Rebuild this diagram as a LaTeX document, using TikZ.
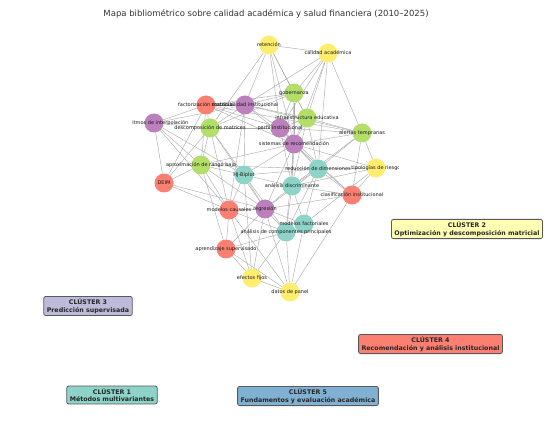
\documentclass[tikz,border=0pt]{standalone}
\usepackage{fontspec}
\setmainfont{DejaVu Sans}
\usetikzlibrary{backgrounds}
\definecolor{nteal}{HTML}{8DD3C7}
\definecolor{nyel}{HTML}{FFED6F}
\definecolor{nred}{HTML}{FB8072}
\definecolor{npur}{HTML}{BC80BD}
\definecolor{ngrn}{HTML}{B3DE69}
\definecolor{cone}{HTML}{8DD3C7}
\definecolor{ctwo}{HTML}{FFFFB3}
\definecolor{cthree}{HTML}{BEBADA}
\definecolor{cfour}{HTML}{FB8072}
\definecolor{cfive}{HTML}{80B1D3}
\definecolor{edgegray}{HTML}{ABABAB}
\tikzset{
  nd/.style={circle, draw=none, fill=#1, minimum size=19pt, inner sep=0pt},
  lbl/.style={font=\fontsize{5}{6}\selectfont, text=black!90, inner sep=0pt},
  edge/.style={draw=edgegray, line width=0.42pt},
  clbox/.style={draw=black!65, line width=0.8pt, rounded corners=2pt, fill=#1,
    align=center, font=\fontsize{6.3}{7.6}\selectfont\bfseries, text=black!85,
    inner xsep=3pt, inner ysep=2.2pt},
  ttl/.style={font=\fontsize{8.5}{10}\selectfont, text=black!80, inner sep=0pt}
}
\begin{document}
\begin{tikzpicture}[x=1pt,y=-1pt]
\useasboundingbox (0,0) rectangle (559,430);
\node[ttl] (T) at (266,14) {Mapa bibliométrico sobre calidad académica y salud financiera (2010–2025)};
\begin{scope}
\clip (132,0) rectangle (398,430);
% nodes
\node[nd=nyel] (R) at (269,45) {};
\node[nd=nyel] (CA) at (328,53) {};
\node[nd=ngrn] (G) at (294,93) {};
\node[nd=nred] (FM) at (206,105) {};
\node[nd=npur] (SI) at (245,105) {};
\node[nd=npur] (AI) at (154,123) {};
\node[nd=ngrn] (DM) at (210,128) {};
\node[nd=ngrn] (IE) at (307,118) {};
\node[nd=npur] (PI) at (280,128) {};
\node[nd=ngrn] (AT) at (362,133) {};
\node[nd=npur] (SR) at (294,144) {};
\node[nd=ngrn] (AR) at (201,165) {};
\node[nd=nteal] (HJ) at (244,175) {};
\node[nd=nteal] (RD) at (318,169) {};
\node[nd=nyel] (TR) at (376,168) {};
\node[nd=nteal] (AD) at (292,186) {};
\node[nd=nred] (DE) at (164,183) {};
\node[nd=nred] (CI) at (352,195) {};
\node[nd=nred] (MC) at (229,210) {};
\node[nd=npur] (RG) at (265,209) {};
\node[nd=nteal] (MF) at (304,224) {};
\node[nd=nteal] (ACP) at (286,232) {};
\node[nd=nred] (AS) at (226,249) {};
\node[nd=nyel] (EF) at (252,278) {};
\node[nd=nyel] (DP) at (290,292) {};
% edges
\begin{scope}[on background layer]
\fill[white] (0,0) rectangle (559,430);
\foreach \a/\b in {R/CA,R/SI,R/DM,R/G,R/IE,R/SR,R/PI,
  CA/SI,CA/G,CA/IE,CA/PI,CA/SR,CA/AT,CA/RD,
  G/SI,G/DM,G/IE,G/PI,G/SR,G/AD,G/FM,
  FM/AI,FM/DM,FM/SI,FM/PI,FM/AT,FM/AR,FM/DE,FM/SR,
  SI/AI,SI/DM,SI/IE,SI/PI,SI/AT,SI/HJ,SI/SR,SI/MC,
  AI/DM,AI/DE,AI/MC,AI/HJ,AI/AR,
  DM/AR,DM/HJ,DM/MC,DM/RG,DM/DE,DM/PI,
  IE/PI,IE/SR,IE/AT,IE/RD,IE/AD,
  PI/SR,PI/AT,PI/RD,PI/AD,PI/CI,
  AT/TR,AT/CI,AT/RD,AT/SR,AT/AD,
  SR/RD,SR/HJ,SR/AD,SR/RG,SR/AR,SR/TR,SR/CI,SR/ACP,
  AR/HJ,AR/MC,AR/RG,AR/DE,AR/RD,AR/AS,
  HJ/RD,HJ/MC,HJ/RG,HJ/AD,HJ/ACP,HJ/EF,
  RD/CI,RD/AD,RD/TR,RD/MF,RD/ACP,RD/RG,
  TR/CI,TR/AD,TR/MF,
  CI/DP,CI/AD,CI/RG,
  DE/MC,DE/RG,
  MC/RG,MC/AS,MC/ACP,MC/EF,MC/DP,
  RG/MF,RG/ACP,RG/AS,RG/EF,RG/DP,
  AS/EF,AS/DP,AS/ACP,
  EF/DP,EF/ACP,
  DP/ACP,DP/MF,
  AD/MF,AD/ACP,AD/RG}
  \draw[edge] (\a) -- (\b);
\end{scope}
% labels
\node[lbl] (Rt) at (R) {retención};
\node[lbl] (CAt) at (CA) {calidad académica};
\node[lbl] (Gt) at (G) {gobernanza};
\node[lbl] (FMt) at (FM) {factorización matricial};
\node[lbl] (SIt) at (SI) {sostenibilidad institucional};
\node[lbl] (AIt) at (AI) {algoritmos de interpolación};
\node[lbl] (DMt) at (DM) {descomposición de matrices};
\node[lbl] (IEt) at (IE) {infraestructura educativa};
\node[lbl] (PIt) at (PI) {perfil institucional};
\node[lbl] (ATt) at (AT) {alertas tempranas};
\node[lbl] (SRt) at (SR) {sistemas de recomendación};
\node[lbl] (ARt) at (AR) {aproximación de rango bajo};
\node[lbl] (HJt) at (HJ) {HJ-Biplot};
\node[lbl] (RDt) at (RD) {reducción de dimensiones};
\node[lbl] (TRt) at (TR) {tipologías de riesgo};
\node[lbl] (ADt) at (AD) {análisis discriminante};
\node[lbl] (DEt) at (DE) {DEIM};
\node[lbl] (CIt) at (CI) {clasificación institucional};
\node[lbl] (MCt) at (MC) {modelos causales};
\node[lbl] (RGt) at (RG) {regresión};
\node[lbl] (MFt) at (MF) {modelos factoriales};
\node[lbl] (ACPt) at (ACP) {análisis de componentes principales};
\node[lbl] (ASt) at (AS) {aprendizaje supervisado};
\node[lbl] (EFt) at (EF) {efectos fijos};
\node[lbl] (DPt) at (DP) {datos de panel};
\end{scope}
% cluster boxes
\node[clbox=ctwo] (C2) at (467,229) {CLÚSTER 2\\Optimización y descomposición matricial};
\node[clbox=cthree] (C3) at (88,306) {CLÚSTER 3\\Predicción supervisada};
\node[clbox=cfour] (C4) at (430.5,344) {CLÚSTER 4\\Recomendación y análisis institucional};
\node[clbox=cone] (C1) at (112,395) {CLÚSTER 1\\Métodos multivariantes};
\node[clbox=cfive] (C5) at (308,396) {CLÚSTER 5\\Fundamentos y evaluación académica};
\end{tikzpicture}
\end{document}
